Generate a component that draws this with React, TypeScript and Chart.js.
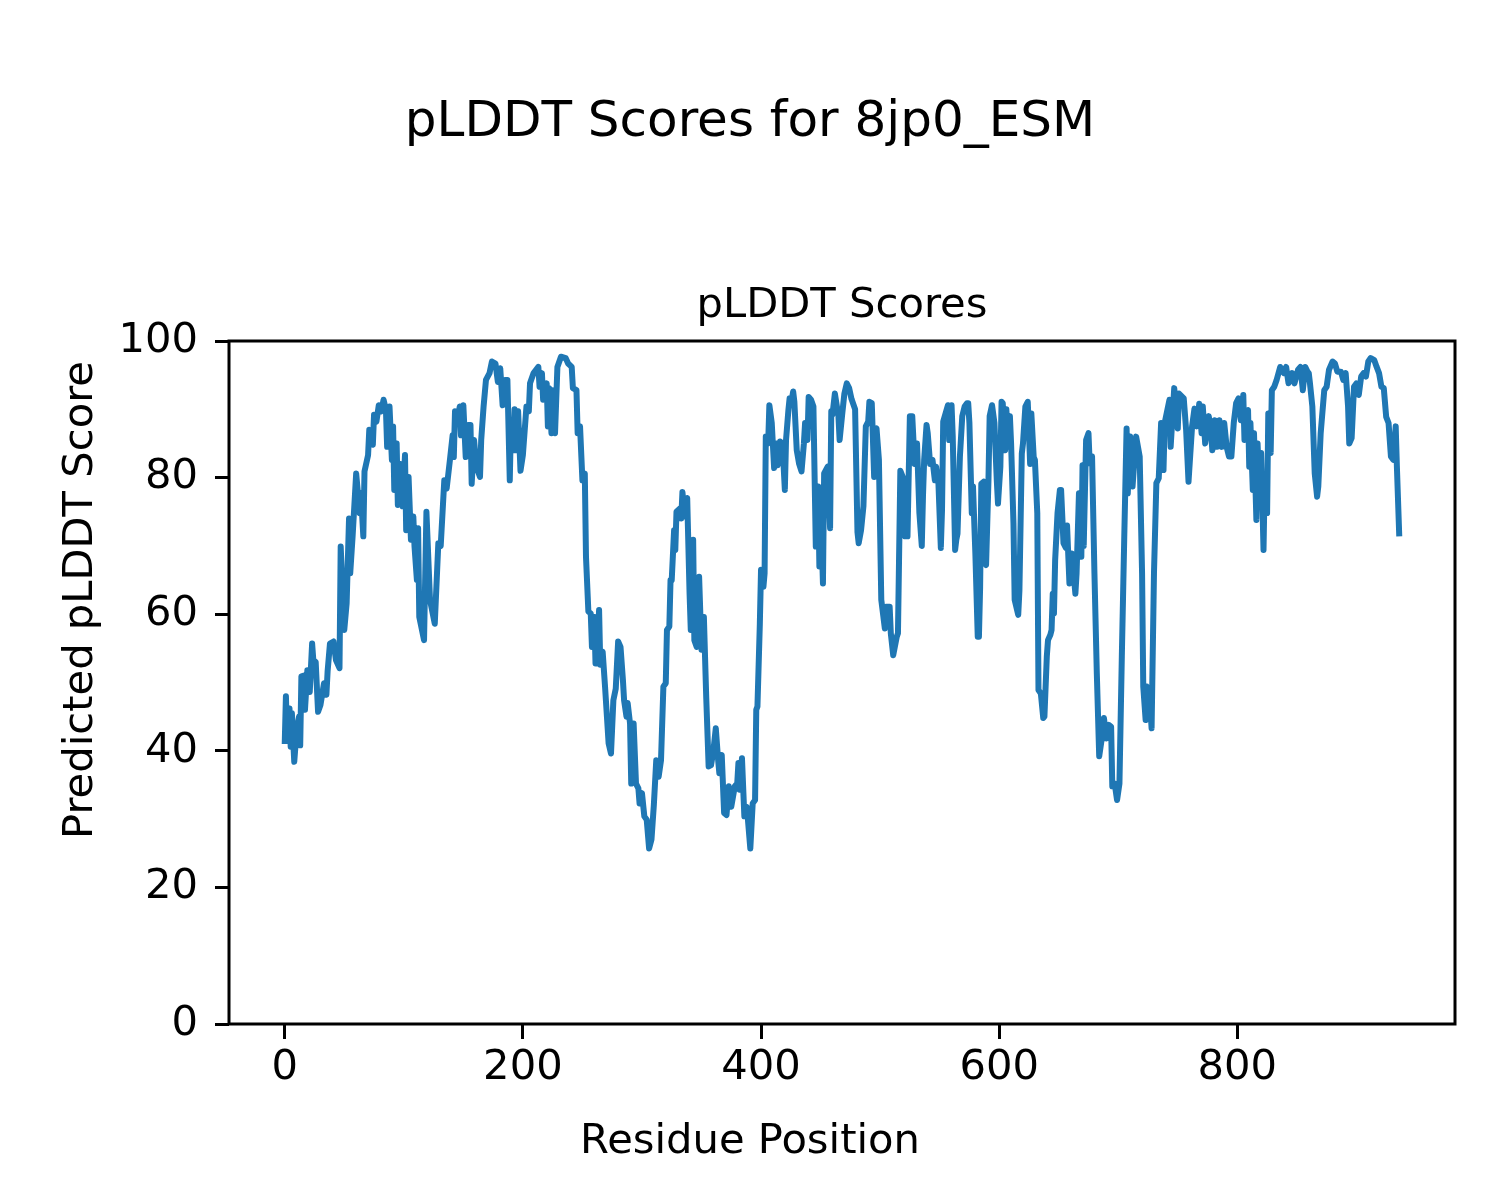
import React, { useEffect, useRef } from "react";
import { Chart, registerables } from "chart.js";

Chart.register(...registerables);

const figureTitle = "pLDDT Scores for 8jp0_ESM";
const axesTitle = "pLDDT Scores";
const xLabel = "Residue Position";
const yLabel = "Predicted pLDDT Score";

const xTickValues = [0, 200, 400, 600, 800];
const yTickValues = [0, 20, 40, 60, 80, 100];

const residues = [
  0, 1, 2, 4, 5, 6, 8, 10, 12, 13, 14, 16, 17, 19, 21, 23, 24, 26, 28, 30,
  33, 35, 36, 38, 41, 43, 46, 47, 50, 52, 54, 55, 57, 60, 63, 64, 66, 67, 70, 71,
  74, 75, 77, 79, 81, 83, 85, 86, 88, 90, 91, 92, 94, 95, 97, 99, 101, 102, 104, 106,
  108, 109, 111, 112, 113, 117, 119, 122, 126, 129, 131, 134, 136, 139, 141, 142, 143, 145, 147, 148,
  150, 152, 154, 156, 157, 159, 161, 164, 165, 167, 169, 172, 174, 177, 179, 181, 183, 185, 187, 189,
  190, 192, 193, 194, 196, 198, 200, 203, 205, 206, 209, 213, 214, 216, 217, 220, 221, 222, 224, 225,
  227, 229, 232, 236, 238, 241, 242, 245, 246, 248, 250, 252, 253, 255, 257, 258, 260, 261, 262, 264,
  265, 267, 269, 272, 274, 276, 278, 280, 282, 284, 285, 287, 288, 290, 291, 293, 295, 297, 298, 300,
  302, 304, 306, 308, 310, 312, 314, 316, 318, 320, 321, 323, 324, 325, 327, 328, 329, 332, 333, 334,
  336, 338, 340, 341, 343, 344, 346, 348, 350, 352, 354, 356, 358, 360, 362, 364, 365, 367, 369, 371,
  373, 375, 378, 380, 381, 382, 384, 386, 388, 389, 391, 393, 395, 396, 397, 399, 400, 402, 403, 404,
  406, 407, 409, 411, 413, 414, 416, 418, 420, 421, 423, 424, 426, 427, 428, 430, 432, 434, 436, 437,
  439, 440, 442, 444, 446, 448, 449, 450, 452, 453, 456, 458, 459, 460, 462, 465, 466, 468, 470, 472,
  474, 476, 479, 481, 482, 484, 486, 488, 490, 491, 493, 495, 496, 497, 499, 501, 504, 505, 508, 509,
  511, 514, 515, 517, 519, 521, 523, 525, 527, 529, 531, 533, 535, 536, 537, 539, 540, 542, 544, 546,
  547, 549, 551, 552, 553, 555, 557, 558, 560, 561, 563, 564, 565, 567, 569, 571, 573, 574, 575, 577,
  578, 580, 582, 583, 584, 585, 587, 588, 589, 591, 592, 594, 596, 598, 599, 601, 602, 603, 605, 606,
  608, 609, 610, 612, 613, 616, 617, 619, 620, 622, 624, 626, 627, 629, 630, 632, 633, 635, 637, 638,
  640, 641, 643, 644, 645, 646, 647, 649, 651, 652, 654, 656, 657, 659, 661, 664, 665, 667, 669, 670,
  671, 673, 675, 676, 678, 680, 682, 684, 686, 688, 690, 692, 694, 695, 697, 699, 701, 703, 705, 707,
  708, 710, 712, 715, 718, 720, 721, 723, 724, 726, 728, 730, 732, 734, 736, 738, 739, 743, 744, 747,
  750, 751, 755, 757, 759, 762, 764, 766, 768, 770, 771, 773, 776, 778, 779, 781, 783, 785, 787, 789,
  791, 793, 795, 797, 799, 801, 803, 805, 806, 809, 810, 811, 813, 814, 816, 817, 819, 820, 822, 823,
  825, 826, 828, 829, 831, 833, 836, 839, 841, 843, 846, 848, 851, 853, 855, 857, 859, 860, 861, 863,
  865, 867, 868, 870, 873, 875, 877, 880, 882, 884, 887, 889, 891, 893, 894, 896, 898, 900, 902, 904,
  906, 908, 910, 912, 915, 917, 919, 921, 923, 925, 927, 929, 931, 933, 934, 936,
];

const scores = [
  41, 48, 41.8, 46.2, 40.6, 45.5, 38.4, 43, 45, 40.8, 50.9, 51, 46, 51.8, 48.6, 55.7, 53.3, 53, 45.7, 46.7,
  49.9, 48.2, 51.6, 55.7, 56, 53.3, 52.1, 69.9, 57.7, 61.6, 74, 66, 71.4, 80.6, 74.8, 77.7, 71.4, 80.9, 83.3, 87,
  84.8, 89.2, 88.2, 90.6, 89.7, 91.4, 89.9, 84.5, 90.4, 82.6, 87.5, 78.2, 85, 76, 82, 75.8, 83.3, 72.3, 80.1, 70.9,
  74.3, 69.9, 65, 72.6, 59.6, 56.2, 75, 62.1, 58.6, 70.4, 70, 79.6, 78.4, 83, 86.2, 83, 89.7, 88.4, 90.4, 86.2,
  90.6, 83, 87.7, 87.7, 79.1, 85.5, 81.6, 80.1, 85.5, 90.4, 94.3, 95.3, 97, 96.7, 94, 96, 90.6, 94.3, 94.3, 79.6,
  88, 84, 90, 84, 89.7, 81, 83.3, 90.4, 89.7, 93.8, 95.3, 96.2, 93.3, 95.3, 91.4, 93.8, 87.5, 93.1, 86.5, 92.8,
  86.5, 96.2, 97.7, 97.5, 96.7, 96.2, 93.1, 92.8, 86.5, 87.5, 79.6, 80.6, 68.4, 60.4, 60.1, 55.2, 59.6, 52.8, 52.8, 60.6,
  52.6, 54.5, 49.4, 41.1, 39.6, 47.4, 49.1, 56, 55.2, 50.4, 47.4, 45, 47, 44, 35.2, 44, 35.2, 34.5, 32.3, 33.8,
  30.4, 29.9, 25.7, 27, 32.1, 38.6, 36.2, 38.6, 49.4, 49.9, 57.7, 58.2, 65, 65, 72.3, 69.4, 75, 75.5, 74, 77.9,
  74.3, 77, 63, 57.7, 70.9, 56.2, 55.2, 65.5, 54.8, 59.6, 47.7, 37.7, 37.9, 40, 43.3, 38.6, 36.7, 39.4, 30.9, 30.6,
  34.8, 31.8, 34.8, 35.2, 38.2, 34.3, 38.9, 30.4, 31.8, 29.9, 25.7, 32.3, 32.8, 46, 46.5, 58.6, 66.5, 64, 66, 86,
  85, 90.6, 88, 81.4, 85, 81.8, 85.3, 85, 78.2, 85.5, 89.9, 91.6, 91.6, 92.6, 91.1, 84, 82, 80.9, 85, 88,
  85.5, 91.8, 91.4, 90.4, 69.9, 78.7, 67, 76.7, 64.5, 80.6, 81.6, 72.6, 89.7, 89.2, 92.3, 89, 85.5, 89, 92.3, 93.8,
  93.1, 91.5, 90, 72, 70.4, 72.3, 75.8, 87.5, 88.2, 91.1, 90.9, 80.1, 87, 87.2, 82.6, 62.1, 57.9, 61.1, 61.1, 57.2,
  54, 56.7, 57.2, 81, 80.1, 71.4, 71.4, 89, 89, 82, 85, 74.8, 70, 77.2, 82.6, 87.7, 86.5, 82, 82.6, 79.6,
  81.6, 79.1, 69.7, 75.3, 88.2, 89.4, 90.6, 85.5, 90.6, 86, 69.4, 70.9, 71.8, 83, 89, 90.4, 90.9, 90.9, 88, 74.8,
  78.7, 68.9, 56.7, 56.7, 64, 79.1, 79.4, 67.5, 67.2, 79.6, 89, 90.6, 88, 79.6, 76.2, 81.6, 91.1, 90.9, 84, 90,
  84.5, 89, 85, 73.3, 62.1, 59.9, 63.5, 83.5, 85, 90.4, 91.1, 82, 89.4, 83, 82.6, 74.8, 48.9, 48.4, 44.8, 45,
  53.8, 56.2, 57, 57.7, 63, 60.1, 67.9, 74.8, 78.2, 78.2, 70.4, 69.7, 73, 64.5, 68.9, 63, 66, 77.7, 68.4, 81.8,
  70, 85.5, 86.5, 82.1, 83.1, 66, 51.3, 39.2, 41.6, 44.8, 41.8, 43.8, 43.5, 34.8, 35.2, 32.8, 35.2, 53.8, 70.9, 87.2,
  77.7, 86, 78.7, 86, 83.1, 66, 49.4, 44.5, 49.4, 48.9, 43.3, 66, 79.2, 79.9, 88, 81.1, 88, 91.4, 84.5, 93.1,
  87.2, 92.3, 91.6, 87, 79.4, 87.5, 90.1, 87.5, 90.8, 86.5, 90.4, 85, 89, 86.5, 84, 88.4, 84.5, 88.4, 84.5, 88,
  84.5, 83.1, 83.1, 88, 90.9, 91.6, 88.4, 92.1, 85.5, 89.9, 81.6, 88, 78.2, 86.5, 73.8, 85, 76.2, 83.6, 69.4, 79.6,
  74.8, 89.4, 83.6, 92.8, 93.3, 94.3, 96.2, 95.3, 96.2, 93.8, 95.3, 93.8, 95.8, 96.2, 92.8, 96.2, 95.5, 95.3, 93.8, 90.4,
  80.6, 77.2, 78.7, 86.5, 92.8, 93.3, 95.8, 97, 96.7, 95.5, 95.5, 94.3, 95.3, 90.4, 85, 85.8, 93.3, 93.8, 92.1, 94.8,
  95.3, 94.8, 97, 97.5, 97.2, 96.2, 95.3, 93.3, 93.1, 88.9, 88, 83.1, 82.6, 87.5, 81.6, 71.4,
];

const FONT = '"DejaVu Sans", "Liberation Sans", sans-serif';
const LINE_COLOR = "#1f77b4";

const textPlugin = {
  id: "mplText",
  afterDraw(chart: any) {
    const { ctx, chartArea } = chart;
    ctx.save();
    // frame (spines)
    ctx.strokeStyle = "#000";
    ctx.lineWidth = 3;
    ctx.strokeRect(
      chartArea.left,
      chartArea.top,
      chartArea.right - chartArea.left,
      chartArea.bottom - chartArea.top
    );
    ctx.fillStyle = "#000";
    ctx.textAlign = "center";
    ctx.textBaseline = "alphabetic";
    ctx.font = `50px ${FONT}`;
    ctx.fillText(figureTitle, 750, 136);
    ctx.font = `41.67px ${FONT}`;
    ctx.fillText(axesTitle, (chartArea.left + chartArea.right) / 2, 317);
    ctx.fillText(xLabel, 750, 1153);
    ctx.translate(92, 600);
    ctx.rotate(-Math.PI / 2);
    ctx.fillText(yLabel, 0, 0);
    ctx.restore();
  },
};

export default function App() {
  const canvasRef = useRef<HTMLCanvasElement | null>(null);

  useEffect(() => {
    const canvas = canvasRef.current;
    if (!canvas) return;
    const points = residues.map((r, i) => ({ x: r, y: scores[i] }));
    const chart = new Chart(canvas, {
      type: "line",
      data: {
        datasets: [
          {
            data: points,
            borderColor: LINE_COLOR,
            backgroundColor: LINE_COLOR,
            borderWidth: 6,
            pointRadius: 0,
            borderJoinStyle: "round",
            borderCapStyle: "butt",
            tension: 0,
            fill: false,
          },
        ],
      },
      options: {
        animation: false,
        responsive: false,
        devicePixelRatio: 1,
        parsing: false,
        normalized: true,
        layout: { padding: { left: 0, top: 341, right: 45, bottom: 0 } },
        plugins: {
          legend: { display: false },
          title: { display: false },
          tooltip: { enabled: false },
        },
        scales: {
          x: {
            type: "linear",
            min: -46.8,
            max: 982.8,
            border: { display: false },
            grid: {
              drawOnChartArea: false,
              drawTicks: true,
              tickLength: 15,
              tickWidth: 3,
              tickColor: "#000",
            },
            ticks: {
              color: "#000",
              padding: 4,
              maxRotation: 0,
              autoSkip: false,
              font: { family: FONT, size: 41.67, lineHeight: 1.2 },
            },
            afterBuildTicks: (scale: any) => {
              scale.ticks = xTickValues.map((v) => ({ value: v }));
            },
            afterFit: (scale: any) => {
              scale.height = 176;
            },
          },
          y: {
            type: "linear",
            min: 0,
            max: 100,
            border: { display: false },
            grid: {
              drawOnChartArea: false,
              drawTicks: true,
              tickLength: 14,
              tickWidth: 3,
              tickColor: "#000",
            },
            ticks: {
              color: "#000",
              padding: 17,
              autoSkip: false,
              font: { family: FONT, size: 41.67, lineHeight: 1.2 },
            },
            afterBuildTicks: (scale: any) => {
              scale.ticks = yTickValues.map((v) => ({ value: v }));
            },
            afterFit: (scale: any) => {
              scale.width = 229;
            },
          },
        },
      },
      plugins: [textPlugin],
    });
    return () => chart.destroy();
  }, []);

  return (
    <div style={{ position: "absolute", left: 0, top: 0, width: 1500, height: 1200, background: "#fff" }}>
      <canvas ref={canvasRef} width={1500} height={1200} style={{ width: 1500, height: 1200 }} />
    </div>
  );
}
